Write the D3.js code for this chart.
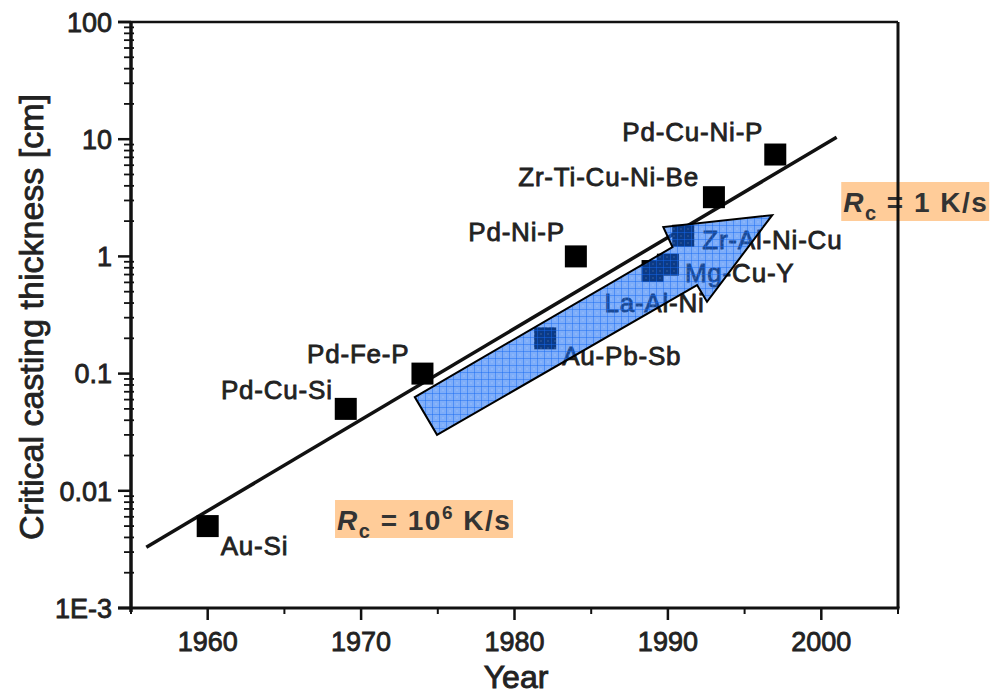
<!DOCTYPE html>
<html>
<head>
<meta charset="utf-8">
<script src="https://cdn.jsdelivr.net/npm/d3@7"></script>
<style>
  body { margin: 0; background: #fff; }
  svg text { font-family: Arial, "Liberation Sans", sans-serif; }
</style>
</head>
<body>
<div id="chart"></div>
<script>

// glass formers: year of discovery vs critical casting thickness
var alloys = ["Au-Si", "Pd-Cu-Si", "Pd-Fe-P", "Au-Pb-Sb", "Pd-Ni-P", "La-Al-Ni", "Mg-Cu-Y", "Zr-Al-Ni-Cu", "Zr-Ti-Cu-Ni-Be", "Pd-Cu-Ni-P"],
  years = [1960, 1969, 1974, 1982, 1984, 1989, 1990, 1991, 1993, 1997],
  thickness = [0.005, 0.05, 0.1, 0.2, 1, 0.75, 0.85, 1.5, 3.2, 7.4];

// trend line
var trendYears = [1956, 2001],
  trendValues = [0.0033, 10.4];

// big arrow outline (year, thickness)
var arrowYears = [1973.5, 1990.3, 1989.7, 1996.8, 1992.55, 1991.9, 1974.95],
  arrowValues = [0.063, 1.2, 1.78, 2.25, 0.41, 0.57, 0.030];

// ticks
var xTicks = [1960, 1970, 1980, 1990, 2000],
  xMinor = [1955, 1965, 1975, 1985, 1995, 2005],
  yTicks = [0.001, 0.01, 0.1, 1, 10, 100],
  yTickLabels = ["1E-3", "0.01", "0.1", "1", "10", "100"];

// label placement relative to each square [dx, dy, anchor]
var labelPos = [[13, 29, "start"], [-13, -10, "end"], [-13, -11, "end"], [17, 27, "start"], [-11, -15, "end"],
  [2, 41, "middle"], [17, 17, "start"], [19, 13, "start"], [-15, -11, "end"], [-12, -14, "end"]];

var margin = { top: 22, right: 107, bottom: 88, left: 131 },
  width = 1005 - margin.left - margin.right,
  height = 696 - margin.top - margin.bottom;

var svg = d3.select("#chart")
  .append("svg")
  .attr("width", 1005)
  .attr("height", 696);

// hatched blue fill for the arrow
var defs = svg.append("defs");
var pat = defs.append("pattern")
  .attr("id", "grid")
  .attr("patternUnits", "userSpaceOnUse")
  .attr("width", 7)
  .attr("height", 7);
pat.append("rect")
  .attr("width", 7).attr("height", 7)
  .attr("fill", "rgb(20,105,243)")
  .attr("fill-opacity", 0.55);
pat.append("path")
  .attr("d", "M0,0.5H7M0.5,0V7")
  .attr("stroke", "rgb(20,105,243)")
  .attr("stroke-opacity", 0.45)
  .attr("stroke-width", 1);
pat.append("rect")
  .attr("x", 3.5).attr("y", 3.5).attr("width", 1).attr("height", 1)
  .attr("fill", "#fff")
  .attr("fill-opacity", 0.35);

var g = svg.append("g")
  .attr("transform", "translate(" + margin.left + "," + margin.top + ")");

var x = d3.scaleLinear()
  .domain([1955, 2005])
  .range([0, width]);
var y = d3.scaleLog()
  .domain([0.001, 100])
  .range([height, 0]);

var textInk = "#222";

//-- cooling rate notes (under the frame) --//
var addNote = function (bx, by, bw, bh, sup) {
  g.append("rect")
    .attr("x", bx).attr("y", by)
    .attr("width", bw).attr("height", bh)
    .attr("fill", "#ffcc99");
  var t = g.append("text")
    .attr("x", bx + 2)
    .attr("y", by + 30)
    .attr("fill", "#333")
    .style("font-size", "28px")
    .style("font-weight", "bold")
    .style("letter-spacing", "1.5px");
  t.append("tspan").style("font-style", "italic").text("R");
  t.append("tspan").attr("dy", 8).style("font-size", "20px").text("c");
  if (sup) {
    t.append("tspan").attr("dy", -8).text(" = 10");
    t.append("tspan").attr("dy", -11).style("font-size", "19px").text("6");
    t.append("tspan").attr("dy", 11).text(" K/s");
  } else {
    t.append("tspan").attr("dy", -8).text(" = 1 K/s");
  }
}
addNote(x(2001.3), 160, 148, 39, false);
addNote(x(1968.3), 478, 178, 38, true);

//-- axes --//
var axisStroke = "#111";

// frame top and right
g.append("line")
  .attr("x1", -13).attr("x2", width)
  .attr("y1", 0).attr("y2", 0)
  .attr("stroke", axisStroke).attr("stroke-width", 2.5);
g.append("line")
  .attr("x1", width).attr("x2", width)
  .attr("y1", 0).attr("y2", height)
  .attr("stroke", axisStroke).attr("stroke-width", 3);

// bottom axis
g.append("line")
  .attr("x1", -13).attr("x2", width + 1.5)
  .attr("y1", height).attr("y2", height)
  .attr("stroke", axisStroke).attr("stroke-width", 3);
g.selectAll(".xmaj")
  .data(xTicks)
  .enter().append("line")
  .attr("x1", function(d) { return x(d) }).attr("x2", function(d) { return x(d) })
  .attr("y1", height).attr("y2", height + 12)
  .attr("stroke", axisStroke).attr("stroke-width", 2.5);
g.selectAll(".xmin")
  .data(xMinor)
  .enter().append("line")
  .attr("x1", function(d) { return x(d) }).attr("x2", function(d) { return x(d) })
  .attr("y1", height).attr("y2", height + 6)
  .attr("stroke", axisStroke).attr("stroke-width", 2);
g.selectAll(".xlab")
  .data(xTicks)
  .enter().append("text")
  .attr("x", function(d) { return x(d) })
  .attr("y", height + 43)
  .attr("text-anchor", "middle")
  .attr("fill", textInk)
  .attr("stroke", textInk).attr("stroke-width", 0.8)
  .style("font-size", "27px")
  .text(function(d) { return d });

// left axis
g.append("line")
  .attr("x1", 0).attr("x2", 0)
  .attr("y1", 0).attr("y2", height + 4)
  .attr("stroke", axisStroke).attr("stroke-width", 3.5);
var yMinor = [];
for (var dd = 0; dd < yTicks.length - 1; dd++) {
  for (var m = 2; m < 10; m++) { yMinor.push(yTicks[dd] * m); }
}
g.selectAll(".ymin")
  .data(yMinor)
  .enter().append("line")
  .attr("x1", -7).attr("x2", 3)
  .attr("y1", function(d) { return y(d) }).attr("y2", function(d) { return y(d) })
  .attr("stroke", axisStroke).attr("stroke-width", 1.8);
g.selectAll(".ymaj")
  .data(yTicks)
  .enter().append("line")
  .attr("x1", -13).attr("x2", 0)
  .attr("y1", function(d) { return y(d) }).attr("y2", function(d) { return y(d) })
  .attr("stroke", axisStroke).attr("stroke-width", 2.5);
g.selectAll(".ylab")
  .data(yTicks)
  .enter().append("text")
  .attr("x", -19)
  .attr("y", function(d) { return y(d) })
  .attr("dy", "0.36em")
  .attr("text-anchor", "end")
  .attr("fill", textInk)
  .attr("stroke", textInk).attr("stroke-width", 0.8)
  .style("font-size", "27px")
  .text(function(d, i) { return yTickLabels[i] });

// axis titles
g.append("text")
  .attr("text-anchor", "middle")
  .attr("x", x(1980.1))
  .attr("y", height + 80)
  .attr("fill", textInk)
  .attr("stroke", textInk).attr("stroke-width", 0.9)
  .style("font-size", "32px")
  .text("Year");
g.append("text")
  .attr("text-anchor", "middle")
  .attr("transform", "translate(-88," + (height / 2 + 2) + ")rotate(-90)")
  .attr("fill", textInk)
  .attr("stroke", textInk).attr("stroke-width", 0.8)
  .style("font-size", "34px")
  .text("Critical casting thickness [cm]");

//-- trend line --//
g.append("path")
  .datum(d3.zip(trendYears, trendValues))
  .attr("fill", "none")
  .attr("stroke", "#111")
  .attr("stroke-width", 3.5)
  .attr("d", d3.line()
    .x(function(d) { return x(d[0]) })
    .y(function(d) { return y(d[1]) }));

//-- data squares and names --//
var sq = 22;
g.selectAll(".pt")
  .data(years)
  .enter().append("rect")
  .attr("x", function(d) { return x(d) - sq / 2 })
  .attr("y", function(d, i) { return y(thickness[i]) - sq / 2 })
  .attr("width", sq).attr("height", sq)
  .attr("fill", "#000");

g.selectAll(".lab")
  .data(alloys)
  .enter().append("text")
  .attr("x", function(d, i) { return x(years[i]) + labelPos[i][0] })
  .attr("y", function(d, i) { return y(thickness[i]) + labelPos[i][1] })
  .attr("text-anchor", function(d, i) { return labelPos[i][2] })
  .attr("fill", textInk)
  .attr("stroke", textInk).attr("stroke-width", 0.8)
  .style("font-size", "26px")
  .style("letter-spacing", "0.8px")
  .text(function(d) { return d });

//-- arrow on top --//
var arrowLine = d3.line()
  .x(function(d) { return x(d[0]) })
  .y(function(d) { return y(d[1]) });
g.append("path")
  .datum(d3.zip(arrowYears, arrowValues))
  .attr("fill", "url(#grid)")
  .attr("stroke", "#000")
  .attr("stroke-width", 2)
  .attr("stroke-linejoin", "miter")
  .attr("d", function(d) { return arrowLine(d) + "Z" });

</script>
</body>
</html>
